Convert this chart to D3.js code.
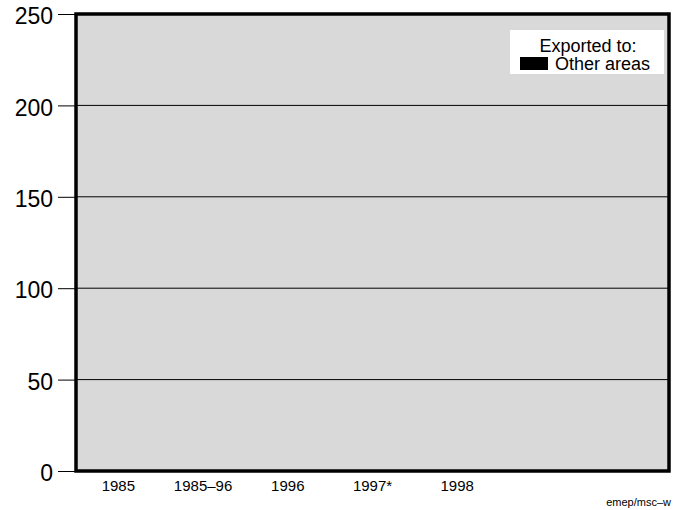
<!DOCTYPE html>
<html>
<head>
<meta charset="utf-8">
<script src="https://d3js.org/d3.v7.min.js"></script>
<style>
body { margin: 0; background: #fff; }
text { font-family: "Liberation Sans", Arial, sans-serif; }
</style>
</head>
<body>
<script>
// categories (7 slots, last two unlabeled)
var categories = ["1985", "1985\u201396", "1996", "1997*", "1998", "", " "];
var otherAreas = [0, 0, 0, 0, 0, 0, 0];
var yTicks = [0, 50, 100, 150, 200, 250];

var W = 684, H = 510;
var plotL = 76, plotR = 669, plotT = 14, plotB = 471;

var svg = d3.select("body").append("svg")
  .attr("width", W).attr("height", H);

var x = d3.scaleBand().domain(categories).range([plotL, plotR])
  .paddingInner(0.3).paddingOuter(0.15);
var y = d3.scaleLinear().domain([0, 250]).range([plotB, plotT]);

// plot background
svg.append("rect")
  .attr("x", plotL).attr("y", plotT)
  .attr("width", plotR - plotL).attr("height", plotB - plotT)
  .attr("fill", "#d9d9d9");

// gridlines
svg.append("g").selectAll("line")
  .data(yTicks.filter(function(d){ return d > 0 && d < 250; }))
  .enter().append("line")
  .attr("x1", plotL).attr("x2", plotR)
  .attr("y1", function(d){ return y(d); })
  .attr("y2", function(d){ return y(d); })
  .attr("stroke", "#000").attr("stroke-width", 1);

// bars
svg.append("g").selectAll("rect")
  .data(otherAreas)
  .enter().append("rect")
  .attr("x", function(d, i){ return x(categories[i]); })
  .attr("width", x.bandwidth())
  .attr("y", function(d){ return y(d); })
  .attr("height", function(d){ return y(0) - y(d); })
  .attr("fill", "#000");

// y axis
var yAxis = svg.append("g")
  .attr("transform", "translate(" + plotL + ",0)")
  .call(d3.axisLeft(y).tickValues(yTicks).tickSize(18).tickPadding(5));
yAxis.select(".domain").remove();
yAxis.selectAll(".tick line").attr("stroke", "#000");
yAxis.selectAll(".tick text")
  .style("font-size", "23px")
  .attr("fill", "#000")
  .attr("dy", "0.42em");

// x labels
var xAxis = svg.append("g")
  .attr("transform", "translate(0," + plotB + ")")
  .call(d3.axisBottom(x).tickSize(0).tickPadding(9));
xAxis.select(".domain").remove();
xAxis.selectAll(".tick text")
  .style("font-size", "15px")
  .attr("fill", "#000");

// frame
svg.append("rect")
  .attr("x", plotL).attr("y", plotT)
  .attr("width", plotR - plotL).attr("height", plotB - plotT)
  .attr("fill", "none")
  .attr("stroke", "#000").attr("stroke-width", 3.5);

// legend
var lg = svg.append("g");
lg.append("rect")
  .attr("x", 510).attr("y", 30).attr("width", 154).attr("height", 44)
  .attr("fill", "#fff");
lg.append("text")
  .attr("x", 588).attr("y", 52)
  .attr("text-anchor", "middle")
  .style("font-size", "18px")
  .text("Exported to:");
lg.append("rect")
  .attr("x", 520).attr("y", 57).attr("width", 28).attr("height", 13)
  .attr("fill", "#000");
lg.append("text")
  .attr("x", 555).attr("y", 70)
  .style("font-size", "18px")
  .text("Other areas");

// credit
svg.append("text")
  .attr("x", 671).attr("y", 506)
  .attr("text-anchor", "end")
  .style("font-size", "11px")
  .text("emep/msc\u2013w");
</script>
</body>
</html>
